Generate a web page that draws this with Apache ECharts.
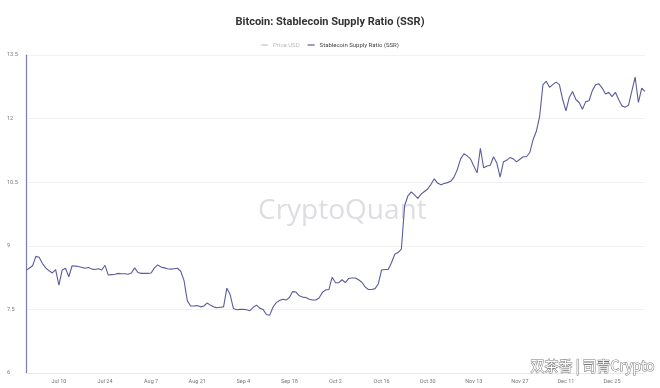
<!DOCTYPE html>
<html>
<head>
<meta charset="utf-8">
<script src="https://cdn.jsdelivr.net/npm/echarts@6/dist/echarts.min.js"></script>
<style>
html,body{margin:0;padding:0;background:#fff;}
#c{width:660px;height:388px;}
</style>
</head>
<body>
<div id="c"></div>
<script>
// Daily data from 2023-06-30 to 2024-01-04
var startDate = '2023-06-30';
var ssrValues = [
  8.42, 8.47, 8.53, 8.75, 8.73, 8.58, 8.48, 8.41, 8.36, 8.44,
  8.07, 8.43, 8.47, 8.27, 8.53, 8.52, 8.51, 8.49, 8.47, 8.49,
  8.45, 8.44, 8.46, 8.43, 8.54, 8.31, 8.32, 8.33, 8.35, 8.34,
  8.34, 8.33, 8.36, 8.48, 8.37, 8.35, 8.35, 8.35, 8.36, 8.48,
  8.55, 8.50, 8.48, 8.46, 8.45, 8.46, 8.47, 8.40, 8.18, 7.70,
  7.58, 7.58, 7.59, 7.56, 7.58, 7.65, 7.60, 7.56, 7.54, 7.55,
  7.56, 8.00, 7.85, 7.52, 7.49, 7.50, 7.50, 7.49, 7.47, 7.55,
  7.60, 7.53, 7.50, 7.38, 7.36, 7.55, 7.66, 7.71, 7.74, 7.72,
  7.78, 7.92, 7.91, 7.82, 7.79, 7.78, 7.74, 7.72, 7.72, 7.77,
  7.90, 7.96, 7.97, 8.26, 8.13, 8.13, 8.20, 8.13, 8.23, 8.24,
  8.24, 8.20, 8.14, 8.03, 7.97, 7.97, 7.99, 8.10, 8.43, 8.44,
  8.44, 8.60, 8.80, 8.84, 8.92, 9.95, 10.18, 10.27, 10.20, 10.12,
  10.22, 10.28, 10.34, 10.45, 10.58, 10.48, 10.44, 10.47, 10.49, 10.52,
  10.62, 10.80, 11.05, 11.17, 11.12, 11.05, 10.88, 10.72, 11.30, 10.84,
  10.88, 10.90, 11.10, 10.95, 10.62, 10.98, 11.02, 11.08, 11.05, 10.98,
  11.04, 11.10, 11.10, 11.20, 11.50, 11.70, 12.05, 12.80, 12.88, 12.74,
  12.80, 12.86, 12.80, 12.45, 12.18, 12.50, 12.64, 12.45, 12.38, 12.22,
  12.40, 12.42, 12.66, 12.80, 12.82, 12.72, 12.58, 12.62, 12.52, 12.62,
  12.45, 12.30, 12.27, 12.32, 12.65, 12.98, 12.38, 12.72, 12.64
];
var priceValues = []; // hidden series (legend item deselected)
var tickLabels = ['Jul 10','Jul 24','Aug 7','Aug 21','Sep 4','Sep 18','Oct 2','Oct 16','Oct 30','Nov 13','Nov 27','Dec 11','Dec 25'];
var yTicks = [6, 7.5, 9, 10.5, 12, 13.5];

var months = ['Jan','Feb','Mar','Apr','May','Jun','Jul','Aug','Sep','Oct','Nov','Dec'];
var categories = [];
var d0 = new Date(startDate + 'T00:00:00Z');
for (var i = 0; i < ssrValues.length; i++) {
  var d = new Date(d0.getTime() + i * 86400000);
  categories.push(months[d.getUTCMonth()] + ' ' + d.getUTCDate());
}

var chart = echarts.init(document.getElementById('c'), null, {renderer: 'canvas'});
chart.setOption({
  animation: false,
  backgroundColor: '#fff',
  title: {
    text: 'Bitcoin: Stablecoin Supply Ratio (SSR)',
    left: 'center', top: 12,
    textStyle: {fontFamily: 'Roboto', fontSize: 11, fontWeight: 'bold', color: '#333'}
  },
  legend: {
    top: 37, left: 'center',
    itemWidth: 7, itemHeight: 1, itemGap: 8,
    icon: 'rect',
    textStyle: {fontFamily: 'Roboto', fontSize: 6, color: '#444'},
    inactiveColor: '#bbb',
    data: ['Price USD', 'Stablecoin Supply Ratio (SSR)'],
    selected: {'Price USD': false}
  },
  graphic: [
    {type: 'text', left: 258, top: 197, z: 0, silent: true,
     style: {text: 'CryptoQuant', font: '28px "Open Sans", Roboto, sans-serif', fill: '#dedee2'}},
    {type: 'text', left: 530, top: 358, z: 100, silent: true,
     style: {text: '双茶香 | 司青Crypto', font: '14px "Noto Sans CJK SC", sans-serif', fill: '#fff', stroke: '#777', lineWidth: 1}}
  ],
  grid: {left: 26, right: 15, top: 55, bottom: 15, containLabel: false},
  xAxis: {
    type: 'category',
    data: categories,
    boundaryGap: false,
    axisLine: {show: true, lineStyle: {color: '#e8e8e8'}},
    axisTick: {show: false},
    axisLabel: {
      interval: function (idx, val) { return tickLabels.indexOf(val) >= 0; },
      fontFamily: 'Roboto', fontSize: 5.5, color: '#777', margin: 6
    },
    splitLine: {show: false}
  },
  yAxis: {
    type: 'value',
    min: yTicks[0], max: yTicks[yTicks.length - 1], interval: 1.5,
    axisLine: {show: true, lineStyle: {color: '#7b7bb8', width: 1.2}},
    axisTick: {show: false},
    axisLabel: {align: 'left', margin: 19, fontFamily: 'Roboto', fontSize: 5.5, color: '#777'},
    splitLine: {show: true, lineStyle: {color: '#f2f2f2'}}
  },
  series: [
    {name: 'Price USD', type: 'line', data: priceValues, showSymbol: false,
     lineStyle: {color: '#aaa', width: 1}, itemStyle: {color: '#aaa'}},
    {name: 'Stablecoin Supply Ratio (SSR)', type: 'line', data: ssrValues,
     showSymbol: false, symbol: 'none', z: 5,
     lineStyle: {color: '#5b5b9e', width: 1.1}, itemStyle: {color: '#3b3b6e'}}
  ]
});
</script>
</body>
</html>
